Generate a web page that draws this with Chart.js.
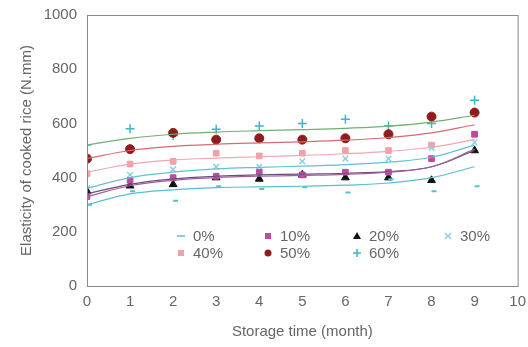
<!DOCTYPE html>
<html>
<head>
<meta charset="utf-8">
<script src="https://cdn.jsdelivr.net/npm/chart.js@4/dist/chart.umd.min.js"></script>
<style>
  html, body { margin: 0; padding: 0; background: #fff; }
  #wrap { width: 528px; height: 347px; }
</style>
</head>
<body>
<div id="wrap"><canvas id="elasticChart"></canvas></div>
<script>
// storage time in months
const months = [0, 1, 2, 3, 4, 5, 6, 7, 8, 9];
const xTicks = [0, 1, 2, 3, 4, 5, 6, 7, 8, 9, 10];
const yTicks = [0, 200, 400, 600, 800, 1000];

const labels = ['0%', '10%', '20%', '30%', '40%', '50%', '60%'];
const obs0  = [300, 350, 315, 368, 358, 364, 345, 394, 350, 368];
const obs10 = [330, 390, 400, 405, 420, 410, 420, 420, 470, 560];
const obs20 = [350, 370, 375, 400, 395, 410, 400, 400, 390, 500];
const obs30 = [360, 410, 430, 440, 440, 460, 470, 470, 510, 530];
const obs40 = [415, 450, 460, 490, 480, 490, 500, 500, 520, 560];
const obs50 = [470, 505, 565, 540, 545, 540, 545, 560, 625, 640];
const obs60 = [520, 580, 555, 578, 590, 600, 615, 590, 600, 685];

// fitted trend lines at each month
const fit0  = [300, 340, 355, 363, 366, 368, 372, 380, 400, 440];
const fit10 = [330, 370, 390, 400, 405, 408, 412, 420, 440, 505];
const fit20 = [340, 375, 395, 405, 410, 413, 416, 422, 440, 500];
const fit30 = [360, 400, 420, 432, 438, 442, 448, 457, 475, 520];
const fit40 = [420, 450, 465, 472, 477, 482, 488, 497, 512, 540];
const fit50 = [470, 500, 515, 523, 528, 532, 538, 548, 565, 595];
const fit60 = [520, 545, 560, 568, 573, 577, 582, 590, 605, 630];

const observed = [obs0, obs10, obs20, obs30, obs40, obs50, obs60];
const fitted = [fit0, fit10, fit20, fit30, fit40, fit50, fit60];

const markerColors = ['#4fc3d6', '#c04a9e', '#111111', '#8fcfe0', '#f2a0a6', '#8e1c1c', '#3fb4c8'];
const markerStyles = ['dash', 'rect', 'triangle', 'crossRot', 'rect', 'circle', 'cross'];
const markerSizes = [5, 4, 4.5, 4, 4, 4.5, 4.5];
const lineColors = ['#55c0d0', '#a0609a', '#6a4c80', '#60c0d4', '#f0a8b0', '#d86a70', '#70b070'];

function toPoints(arr) {
  return arr.map((v, i) => ({ x: months[i], y: v }));
}

const datasets = [];
// trend lines first so markers sit on top
fitted.forEach((arr, i) => {
  datasets.push({
    type: 'line',
    label: labels[i] + ' fit',
    data: toPoints(arr),
    borderColor: lineColors[i],
    borderWidth: 1.2,
    pointRadius: 0,
    tension: 0.4,
    fill: false
  });
});
observed.forEach((arr, i) => {
  datasets.push({
    type: 'scatter',
    label: labels[i],
    data: toPoints(arr),
    pointStyle: markerStyles[i],
    pointRadius: markerSizes[i],
    backgroundColor: markerColors[i],
    borderColor: markerColors[i],
    borderWidth: markerStyles[i] === 'dash' ? 2 : (markerStyles[i].startsWith('cross') ? 1.5 : 1)
  });
});

// frame round the plot area plus the legend inside it
const frameAndLegend = {
  id: 'frameAndLegend',
  afterDraw(chart) {
    const { ctx, chartArea: a } = chart;
    ctx.save();
    ctx.strokeStyle = '#8a8a8a';
    ctx.lineWidth = 1;
    ctx.strokeRect(a.left + 0.5, a.top + 0.5, a.right - a.left, a.bottom - a.top);

    // legend: 4 columns, 2 rows
    const cols = [181, 268, 357, 448];
    const rows = [236, 253];
    ctx.font = '15px "Liberation Sans", Arial, sans-serif';
    ctx.textBaseline = 'middle';
    labels.forEach((lab, i) => {
      const mx = cols[i % 4];
      const my = rows[Math.floor(i / 4)];
      const c = markerColors[i];
      ctx.fillStyle = c;
      ctx.strokeStyle = c;
      ctx.lineWidth = 1.5;
      const s = markerStyles[i];
      ctx.beginPath();
      if (s === 'dash') {
        ctx.moveTo(mx - 4, my); ctx.lineTo(mx + 4, my); ctx.stroke();
      } else if (s === 'rect') {
        ctx.fillRect(mx - 3, my - 3, 6, 6);
      } else if (s === 'triangle') {
        ctx.moveTo(mx, my - 4); ctx.lineTo(mx + 4, my + 3); ctx.lineTo(mx - 4, my + 3);
        ctx.closePath(); ctx.fill();
      } else if (s === 'crossRot') {
        ctx.moveTo(mx - 3, my - 3); ctx.lineTo(mx + 3, my + 3);
        ctx.moveTo(mx + 3, my - 3); ctx.lineTo(mx - 3, my + 3); ctx.stroke();
      } else if (s === 'circle') {
        ctx.arc(mx, my, 3.5, 0, Math.PI * 2); ctx.fill();
      } else if (s === 'cross') {
        ctx.moveTo(mx - 4, my); ctx.lineTo(mx + 4, my);
        ctx.moveTo(mx, my - 4); ctx.lineTo(mx, my + 4); ctx.stroke();
      }
      ctx.fillStyle = '#666';
      ctx.textAlign = 'left';
      ctx.fillText(lab, mx + 12, my + 1);
    });
    ctx.restore();
  }
};

const ctx = document.getElementById('elasticChart').getContext('2d');
new Chart(ctx, {
  data: { datasets: datasets },
  options: {
    responsive: true,
    maintainAspectRatio: false,
    animation: false,
    layout: { padding: { left: 0, right: 9, top: 15, bottom: 0 } },
    plugins: {
      legend: { display: false },
      tooltip: { enabled: false }
    },
    scales: {
      x: {
        type: 'linear',
        min: 0,
        max: 10,
        afterBuildTicks: s => { s.ticks = xTicks.map(v => ({ value: v })); },
        grid: { display: false, drawTicks: true, tickLength: 5, color: '#8a8a8a' },
        border: { color: '#8a8a8a' },
        ticks: {
          color: '#666',
          padding: 2,
          maxRotation: 0,
          callback: v => String(v),
          font: { family: '"Liberation Sans", Arial, sans-serif', size: 15 }
        },
        title: {
          display: true,
          text: 'Storage time (month)',
          color: '#666',
          padding: { top: 4, bottom: 6 },
          font: { family: '"Liberation Sans", Arial, sans-serif', size: 15 }
        },
        afterFit: s => { s.height = 61; }
      },
      y: {
        min: 0,
        max: 1000,
        afterBuildTicks: s => { s.ticks = yTicks.map(v => ({ value: v })); },
        grid: { display: false, drawTicks: true, tickLength: 5, color: '#8a8a8a' },
        border: { color: '#8a8a8a' },
        ticks: {
          color: '#666',
          padding: 5,
          callback: v => String(v),
          font: { family: '"Liberation Sans", Arial, sans-serif', size: 15 }
        },
        title: {
          display: true,
          text: 'Elasticity of cooked rice (N.mm)',
          color: '#666',
          padding: { top: 18, bottom: 4 },
          font: { family: '"Liberation Sans", Arial, sans-serif', size: 15 }
        },
        afterFit: s => { s.width = 87; }
      }
    }
  },
  plugins: [frameAndLegend]
});
</script>
</body>
</html>
